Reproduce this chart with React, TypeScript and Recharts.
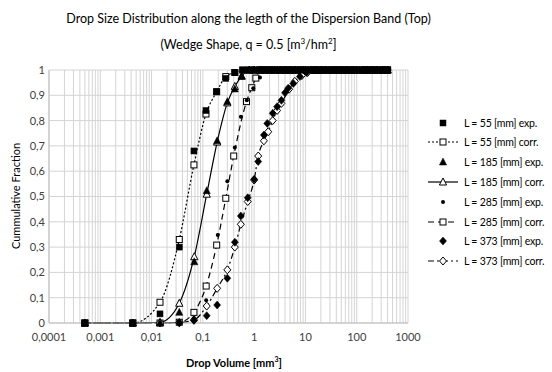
import React from 'react';
import { ComposedChart, Line, Scatter, XAxis, YAxis, CartesianGrid } from 'recharts';

type Pt = { x: number; y: number };

// x = drop volume [mm3], y = cumulative fraction
const TAIL_X = [0.6, 0.8, 1, 1.3, 1.6, 2, 2.5, 3.2, 4, 5, 6.3, 8, 10, 13, 16, 20, 25, 32, 40, 50, 63, 80, 100, 130, 160, 200, 250, 320, 400];

const L55_EXP = [[0.0005, 0], [0.0043, 0], [0.0146, 0.036], [0.0347, 0.3], [0.067, 0.68], [0.115, 0.84], [0.186, 0.914], [0.28, 0.967], [0.42, 0.99]];
const L55_CORR = [[0.0005, 0], [0.0043, 0], [0.0146, 0.082], [0.0347, 0.33], [0.067, 0.625], [0.115, 0.826], [0.186, 0.914], [0.28, 0.974], [0.42, 0.99]];
const L185_EXP = [[0.0005, 0], [0.0043, 0], [0.0146, 0], [0.0347, 0.042], [0.068, 0.242], [0.119, 0.523], [0.19, 0.72], [0.3, 0.875], [0.42, 0.925], [0.57, 0.976]];
const L185_CORR = [[0.0005, 0], [0.0043, 0], [0.0146, 0.003], [0.0347, 0.078], [0.068, 0.262], [0.119, 0.509], [0.19, 0.715], [0.3, 0.87], [0.42, 0.935], [0.57, 0.975]];
const L285_EXP = [[0.0146, 0], [0.0347, 0.005], [0.067, 0.02], [0.116, 0.09], [0.195, 0.348], [0.3, 0.56], [0.42, 0.694], [0.55, 0.815], [0.72, 0.88], [0.96, 0.928], [1.3, 0.97]];
const L285_CORR = [[0.0005, 0], [0.0043, 0], [0.0146, 0], [0.0347, 0.003], [0.067, 0.042], [0.116, 0.146], [0.186, 0.308], [0.28, 0.493], [0.4, 0.66], [0.71, 0.875], [0.9, 0.93], [1.08, 0.968]];
const L373_EXP = [[0.0347, 0], [0.067, 0.01], [0.119, 0.029], [0.19, 0.071], [0.3, 0.177], [0.42, 0.319], [0.55, 0.423], [0.75, 0.495], [1.0, 0.568], [1.2, 0.638], [1.55, 0.743], [1.8, 0.789], [2.3, 0.829], [2.8, 0.855], [3.4, 0.88], [4.0, 0.91], [4.6, 0.928], [5.8, 0.947], [7.8, 0.974], [10.5, 0.99]];
const L373_CORR = [[0.0005, 0], [0.0043, 0], [0.0146, 0], [0.0347, 0.002], [0.067, 0.012], [0.119, 0.067], [0.19, 0.137], [0.3, 0.21], [0.42, 0.3], [0.55, 0.39], [0.75, 0.48], [1.0, 0.565], [1.2, 0.66], [1.55, 0.72], [1.88, 0.756], [2.3, 0.8], [2.8, 0.84], [3.4, 0.868], [4.8, 0.924], [6.2, 0.955], [8.5, 0.978], [11, 0.99]];

const X_MAJOR = [0.0001, 0.001, 0.01, 0.1, 1, 10, 100, 1000];
const Y_TICKS = [0, 0.1, 0.2, 0.3, 0.4, 0.5, 0.6, 0.7, 0.8, 0.9, 1];

const withTail = (head: number[][]): Pt[] => {
  const last = head[head.length - 1][0];
  const rows = [...head, ...TAIL_X.filter((x) => x > last * 1.2).map((x) => [x, 1])];
  return rows.map(([x, y]) => ({ x, y }));
};

// log grid: majors + 2..9 minors
const GRID_X: number[] = [];
X_MAJOR.forEach((m, i) => {
  GRID_X.push(m);
  if (i < X_MAJOR.length - 1) for (let k = 2; k <= 9; k++) GRID_X.push(+(m * k).toPrecision(3));
});

const isMajor = (v: number) => Math.abs(Math.log10(v) - Math.round(Math.log10(v))) < 1e-6;
const fmtX = (v: number) => (isMajor(v) ? String(v).replace('.', ',') : '');
const fmtY = (v: number) => String(v).replace('.', ',');

const FONT = 'Lato, "Open Sans", sans-serif';
const INK = '#000';

type Kind = 'sq' | 'osq' | 'tri' | 'otri' | 'dot' | 'dia' | 'odia';

const Marker = ({ cx, cy, kind }: { cx: number; cy: number; kind: Kind }) => {
  if (cx == null || cy == null) return null;
  const open = kind === 'osq' || kind === 'otri' || kind === 'odia';
  const fill = open ? '#fff' : INK;
  if (kind === 'sq' || kind === 'osq')
    return <rect x={cx - 3} y={cy - 3} width={6} height={6} fill={fill} stroke={INK} strokeWidth={open ? 1 : 0.5} />;
  if (kind === 'tri' || kind === 'otri')
    return <path d={`M${cx},${cy - 4}L${cx + 3.6},${cy + 3}L${cx - 3.6},${cy + 3}Z`} fill={fill} stroke={INK} strokeWidth={open ? 1 : 0.5} />;
  if (kind === 'dot') return <circle cx={cx} cy={cy} r={2} fill={INK} />;
  return <path d={`M${cx},${cy - 4}L${cx + 3.5},${cy}L${cx},${cy + 4}L${cx - 3.5},${cy}Z`} fill={fill} stroke={INK} strokeWidth={open ? 1 : 0.5} />;
};

const SERIES = [
  { name: 'L = 55 [mm] exp.', data: withTail(L55_EXP), kind: 'sq' as Kind },
  { name: 'L = 55 [mm] corr.', data: withTail(L55_CORR), kind: 'osq' as Kind, dash: '2 2' },
  { name: 'L = 185 [mm] exp.', data: withTail(L185_EXP), kind: 'tri' as Kind },
  { name: 'L = 185 [mm] corr.', data: withTail(L185_CORR), kind: 'otri' as Kind, dash: '' },
  { name: 'L = 285 [mm] exp.', data: withTail(L285_EXP), kind: 'dot' as Kind },
  { name: 'L = 285 [mm] corr.', data: withTail(L285_CORR), kind: 'osq' as Kind, dash: '6 4' },
  { name: 'L = 373 [mm] exp.', data: withTail(L373_EXP), kind: 'dia' as Kind },
  { name: 'L = 373 [mm] corr.', data: withTail(L373_CORR), kind: 'odia' as Kind, dash: '6 3 2 3' },
];

const LEGEND_Y = [123, 142, 162, 182, 202, 222, 241, 261];

const LegendIcon = ({ kind, dash }: { kind: Kind; dash?: string }) => (
  <svg width={30} height={12} style={{ display: 'block', flex: 'none' }}>
    {dash !== undefined && <line x1={0} y1={6} x2={30} y2={6} stroke={INK} strokeWidth={1.2} strokeDasharray={dash || undefined} />}
    <Marker cx={15} cy={6} kind={kind} />
  </svg>
);

export default function App() {
  return (
    <div style={{ position: 'absolute', left: 0, top: 0, width: 552, height: 372, background: '#fff', fontFamily: FONT, overflow: 'hidden' }}>
      <div style={{ position: 'absolute', left: 0, width: 497, top: 8, textAlign: 'center', fontSize: 12.5, color: '#000', lineHeight: '22px' }}>
        <div>Drop Size Distribution along the legth of the Dispersion Band (Top)</div>
        <div>
          (Wedge Shape, q = 0.5 [m<sup style={{ fontSize: 8 }}>3</sup>/hm<sup style={{ fontSize: 8 }}>2</sup>]
        </div>
      </div>

      <ComposedChart width={552} height={372} margin={{ top: 70, right: 144, bottom: 19, left: 10 }}>
        <CartesianGrid stroke="#d4d4d4" />
        <XAxis
          dataKey="x"
          type="number"
          scale="log"
          domain={[0.0001, 1000]}
          allowDataOverflow
          ticks={GRID_X}
          interval={0}
          tickFormatter={fmtX}
          tickLine={false}
          tickSize={3}
          tickMargin={7}
          height={30}
          axisLine={{ stroke: '#bfbfbf' }}
          tick={{ fontSize: 11, fill: '#404040', fontFamily: FONT }}
        />
        <YAxis
          dataKey="y"
          type="number"
          domain={[0, 1]}
          ticks={Y_TICKS}
          interval={0}
          tickFormatter={fmtY}
          tickLine={false}
          tickSize={3}
          tickMargin={1}
          width={39}
          axisLine={{ stroke: '#bfbfbf' }}
          tick={{ fontSize: 11, fill: '#404040', fontFamily: FONT }}
        />
        {SERIES.filter((s) => s.dash !== undefined).map((s) => (
          <Line
            key={s.name}
            data={s.data}
            dataKey="y"
            type="monotone"
            stroke={INK}
            strokeWidth={1.2}
            strokeDasharray={s.dash || undefined}
            isAnimationActive={false}
            dot={(p: any) => <Marker key={`${s.name}-${p.index}`} cx={p.cx} cy={p.cy} kind={s.kind} />}
            activeDot={false}
          />
        ))}
        {SERIES.filter((s) => s.dash === undefined).map((s) => (
          <Scatter
            key={s.name}
            data={s.data}
            isAnimationActive={false}
            shape={(p: any) => <Marker cx={p.cx} cy={p.cy} kind={s.kind} />}
          />
        ))}
      </ComposedChart>

      <div style={{ position: 'absolute', left: 6, top: 196, transform: 'translate(-50%, -50%) rotate(-90deg)', transformOrigin: 'center', marginLeft: 9, fontSize: 11, color: '#000', whiteSpace: 'nowrap' }}>
        Cummulative Fraction
      </div>
      <div style={{ position: 'absolute', left: 234, top: 362, transform: 'translate(-50%, -50%)', fontSize: 11, fontWeight: 700, color: '#000', whiteSpace: 'nowrap' }}>
        Drop Volume [mm<sup style={{ fontSize: 7 }}>3</sup>]
      </div>

      {SERIES.map((s, i) => (
        <div key={s.name} style={{ position: 'absolute', left: 428, top: LEGEND_Y[i] - 7, height: 14, display: 'flex', alignItems: 'center', fontSize: 10.5, letterSpacing: -0.2, color: '#000', whiteSpace: 'nowrap' }}>
          <LegendIcon kind={s.kind} dash={s.dash} />
          <span style={{ marginLeft: 6 }}>{s.name}</span>
        </div>
      ))}
    </div>
  );
}
